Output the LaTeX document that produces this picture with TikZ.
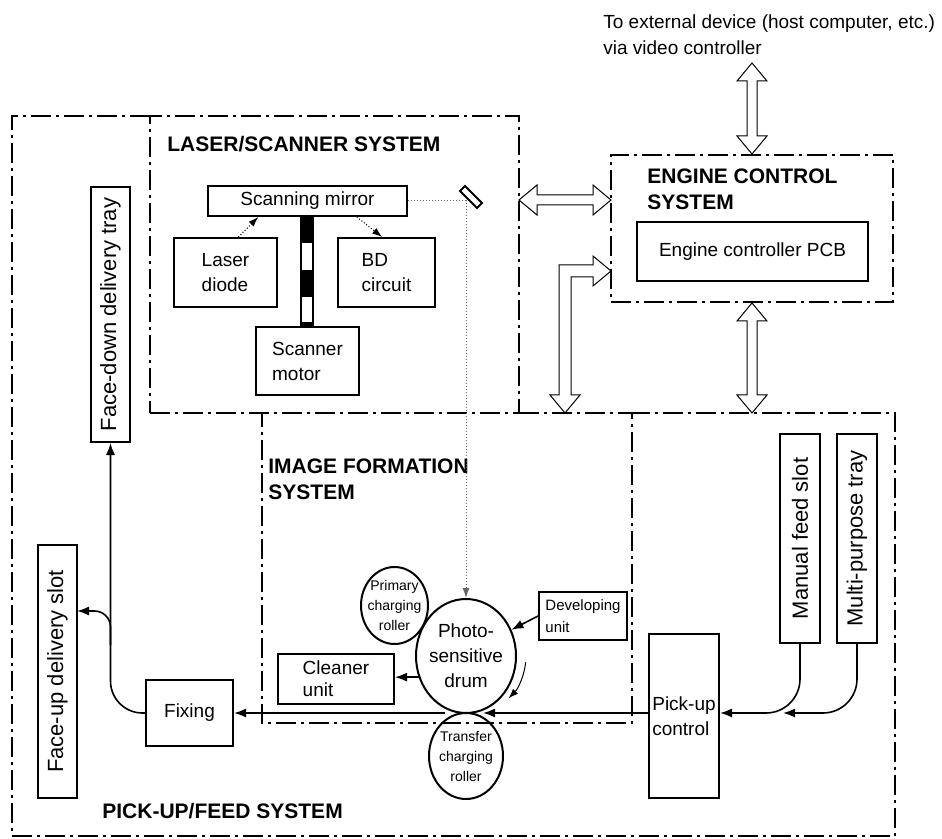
\documentclass[tikz,border=0pt]{standalone}
\usepackage{fontspec}
\setmainfont{Liberation Sans}
\usetikzlibrary{positioning,arrows.meta,calc,shapes.geometric}
\tikzset{
  sysline/.style={line width=1pt, dash pattern=on 10pt off 2.5pt on 1.5pt off 2.5pt},
  systitle/.style={font=\fontsize{10.5}{13}\selectfont\bfseries, align=left, inner sep=0pt},
  unitbox/.style={draw, line width=1pt, align=left, inner sep=0pt,
    font=\fontsize{9.5}{12.5}\selectfont},
  vertbox/.style={unitbox, rotate=90, font=\fontsize{11}{13}\selectfont},
  smalltext/.style={font=\fontsize{7}{10}\selectfont, align=center, inner sep=0pt},
  roller/.style={ellipse, draw, line width=1pt, inner sep=0pt},
  feed/.style={-{Latex[length=6pt,width=4.5pt]}, line width=0.8pt},
  ray/.style={-{Latex[length=5pt,width=3.5pt]}, densely dotted, line width=0.5pt},
  turn/.style={-{Latex[length=5pt,width=3.5pt]}, line width=0.5pt},
  hollow/.style={draw, line width=0.5pt, fill=white, line join=miter},
}
% hollow double arrows (#1 above/left of #2)
\newcommand{\dblv}[2]{%
  \draw[hollow] (#1) -- ++(7.5pt,-9pt) -- ++(-5pt,0pt) -- ($(#2)+(2.5pt,9pt)$)
    -- ++(5pt,0pt) -- (#2) -- ++(-7.5pt,9pt) -- ++(5pt,0pt)
    -- ($(#1)+(-2.5pt,-9pt)$) -- ++(-5pt,0pt) -- cycle;}
\newcommand{\dblh}[2]{%
  \draw[hollow] (#1) -- ++(9pt,7.5pt) -- ++(0pt,-5pt) -- ($(#2)+(-9pt,2.5pt)$)
    -- ++(0pt,5pt) -- (#2) -- ++(-9pt,-7.5pt) -- ++(0pt,5pt)
    -- ($(#1)+(9pt,-2.5pt)$) -- ++(0pt,-5pt) -- cycle;}
\newcommand{\dblbent}[3]{%
  \draw[hollow] (#1) -- ++(-9pt,7.5pt) -- ++(0pt,-4.5pt) -- ($(#2)+(-3pt,3pt)$)
    -- ($(#3)+(-3pt,9pt)$) -- ++(-4.5pt,0pt) -- (#3) -- ++(7.5pt,9pt) -- ++(-4.5pt,0pt)
    -- ($(#2)+(3pt,-3pt)$) -- ($(#1)+(-9pt,-3pt)$) -- ++(0pt,-4.5pt) -- cycle;}

\begin{document}
\begin{tikzpicture}[x=0.5pt, y=-0.5pt]
  \useasboundingbox (0,0) rectangle (942,839);
  % systems
  \node[draw, sysline, inner sep=0pt, minimum width=184.5pt, minimum height=148.5pt] (lasersys) at (334.5,264.5) {};
  \node[draw, sysline, inner sep=0pt, minimum width=141pt, minimum height=73.5pt] (engsys) at (752,228.5) {};
  \draw[sysline] (519,413) -- (632,413) -- (632,723) -- (262,723) -- (262,413);
  \draw[sysline] (150,116) -- (12,116) -- (12,836) -- (895,836) -- (895,413) -- (632,413);
  \node[systitle, anchor=base west] (lstitle) at (167,152) {LASER/SCANNER SYSTEM};
  \node[systitle, anchor=west] (ectitle) at (647,189) {ENGINE CONTROL\\SYSTEM};
  \node[systitle, anchor=west] (iftitle) at (268,479) {IMAGE FORMATION\\SYSTEM};
  \node[systitle, anchor=base west] (pftitle) at (102,818) {PICK-UP/FEED SYSTEM};
  \node[anchor=west, align=left, inner sep=0pt, font=\fontsize{9.5}{13}\selectfont] (host) at (603,35)
    {To external device (host computer, etc.)\\via video controller};

  % laser/scanner
  \node[unitbox, minimum width=99.5pt, minimum height=15pt] (mirror) at (307.5,201) {Scanning mirror};
  \node[unitbox, minimum width=51.5pt, minimum height=34.5pt] (laser) at (225.5,272.5) {Laser\\diode};
  \node[unitbox, minimum width=48.5pt, minimum height=34.5pt] (bd) at (386.5,272.5) {BD\\circuit};
  \node[unitbox, minimum width=51.5pt, minimum height=34pt] (motor) at (307.5,361) {Scanner\\motor};
  \draw[line width=0.8pt, fill=white] (301,216) rectangle (313,327);
  \foreach \ya/\yb in {216/243, 270/297, 322/327}
    \fill (301,\ya) rectangle (313,\yb);
  \node[draw, line width=1pt, inner sep=0pt, minimum width=12pt, minimum height=3.5pt, rotate=-45] (fold) at (471,197) {};
  \draw[ray] (laser.70) -- (mirror.198);
  \draw[ray] (mirror.342) -- (bd.97);

  % engine control
  \node[unitbox, minimum width=115.5pt, minimum height=29.5pt] (ecu) at (752.5,251.5) {Engine controller PCB};

  % image formation
  \node[roller, minimum width=50pt, minimum height=57pt,
    label={[font=\fontsize{9.5}{12.5}\selectfont, align=center, inner sep=0pt]center:Photo-\\sensitive\\drum}] (drum) at (466,656) {};
  \node[roller, minimum width=33.5pt, minimum height=38.5pt,
    label={[smalltext]center:Primary\\charging\\roller}] (pcr) at (394.5,605.5) {};
  \node[roller, minimum width=37pt, minimum height=43pt,
    label={[smalltext]center:Transfer\\charging\\roller}] (tcr) at (466,756) {};
  \node[unitbox, font=\fontsize{7.5}{11}\selectfont, minimum width=44pt, minimum height=24pt] (dev) at (583,616) {Developing\\unit};
  \node[unitbox, font=\fontsize{9.5}{11}\selectfont, minimum width=58pt, minimum height=25pt] (cleaner) at (336,679) {Cleaner\\unit};
  \coordinate (refl) at (466,201);
  \draw[ray, black!60] (mirror.east) -- (refl) -- (drum.north);
  \draw[feed] (dev.west) -- (drum.30);
  \draw[feed] (drum.204) -- (drum.204 -| cleaner.east);
  \draw[turn] ($(drum)+(-6:30pt)$) arc[start angle=-6, end angle=-45, radius=30pt];

  % pick-up/feed
  \node[unitbox, minimum width=43.5pt, minimum height=33pt] (fixing) at (189.5,713) {Fixing};
  \node[unitbox, minimum width=35pt, minimum height=82pt] (pickup) at (684,716) {Pick-up\\control};
  \node[vertbox, minimum width=127.5pt, minimum height=19.5pt] (fdtray) at (110.5,314.5) {Face-down delivery tray};
  \node[vertbox, minimum width=126.5pt, minimum height=19.5pt] (futray) at (57.5,671.5) {Face-up delivery slot};
  \node[vertbox, minimum width=104.5pt, minimum height=20pt] (manual) at (800,538.5) {Manual feed slot};
  \node[vertbox, minimum width=104.5pt, minimum height=20pt] (mptray) at (857,538.5) {Multi-purpose tray};
  \coordinate (nip) at (466,713);
  \coordinate (merge) at (783,713);
  \coordinate (split) at (110.5,645);
  \coordinate (fuin) at (77,611);
  \draw[feed] (pickup.west |- nip) -- ($(nip)+(8.5pt,0pt)$);
  \draw[feed] ($(nip)+(-10.5pt,0pt)$) -- (fixing.east);
  \draw[feed, rounded corners=16pt] (fixing.west) -| (fdtray.west);
  \draw[feed, rounded corners=8pt] (split) |- (fuin);
  \draw[feed, rounded corners=17pt] (manual.west) |- (pickup.east |- nip);
  \draw[feed, rounded corners=17pt] (mptray.west) |- (merge);

  % links between systems
  \coordinate (ext) at (752,63);
  \coordinate (pfport) at (752,413);
  \coordinate (lsport) at (519,200);
  \coordinate (ecport) at (611,200);
  \coordinate (ecport2) at (611,271);
  \coordinate (bend) at (565,271);
  \coordinate (ifport) at (565,413);
  \dblv{ext}{engsys.north}
  \dblv{engsys.south}{pfport}
  \dblh{lsport}{ecport}
  \dblbent{ecport2}{bend}{ifport}
\end{tikzpicture}
\end{document}
